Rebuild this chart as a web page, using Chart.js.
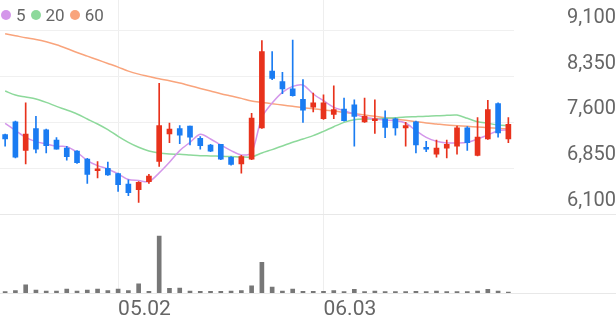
<!DOCTYPE html>
<html>
<head>
<meta charset="utf-8">
<script src="https://cdn.jsdelivr.net/npm/chart.js@4.4.1/dist/chart.umd.min.js"></script>
<style>
  body { margin: 0; background: #fff; }
  #wrap { position: relative; width: 616px; height: 321px; }
  #legend { position: absolute; left: 1px; top: 5px; display: flex; align-items: center;
            font: 17px Roboto, sans-serif; color: #666; line-height: 20px; }
  #legend .dot { width: 10px; height: 10px; border-radius: 50%; display: inline-block; margin-right: 5px; }
  #legend .txt { margin-right: 5px; }
</style>
</head>
<body>
<div id="wrap">
  <canvas id="myChart"></canvas>
  <div id="legend"></div>
</div>
<script>
const dates = ["04.16","04.17","04.18","04.19","04.22","04.23","04.24","04.25","04.26","04.29",
  "04.30","05.02","05.03","05.07","05.08","05.09","05.10","05.13","05.14","05.16",
  "05.17","05.20","05.21","05.22","05.23","05.24","05.27","05.28","05.29","05.30",
  "05.31","06.03","06.04","06.05","06.07","06.10","06.11","06.12","06.13","06.14",
  "06.17","06.18","06.19","06.20","06.21","06.24","06.25","06.26","06.27","06.28"];
const dateTicks = ["05.02", "06.03"];
const priceTicks = [6100, 6850, 7600, 8350, 9100];

const openP  = [7400,7610,7140,7500,7480,7310,7180,7130,7000,6810,
                6850,6760,6590,6500,6630,6960,7410,7500,7540,7340,
                7230,7240,7030,6920,7000,7510,8440,8270,8150,7980,
                7850,7660,7730,7820,7890,7610,7630,7660,7660,7510,
                7610,7190,7080,7180,7210,7510,7060,7330,7910,7330];
const highP  = [7410,7620,7920,7700,7490,7350,7210,7140,7010,6960,
                6950,6770,6660,6630,6750,8240,7590,7550,7540,7370,
                7240,7240,7040,7060,7750,8940,8760,8420,8950,8300,
                8080,8050,8200,8000,7970,8000,7970,7790,7670,7600,
                7620,7290,7310,7310,7540,7530,7680,7960,7920,7680];
const lowP   = [7210,7020,6920,7100,7100,7160,6980,6930,6600,6690,
                6730,6470,6400,6290,6600,6880,7270,7250,7230,7160,
                7120,6990,6900,6770,6990,7500,8300,8070,8030,7600,
                7770,7650,7660,7620,7210,7600,7420,7350,7390,7210,
                7100,7120,7030,7020,7080,7140,7050,7320,7360,7270];
const closeP = [7330,7030,7410,7160,7220,7160,7040,6940,6750,6840,
                6740,6580,6450,6620,6720,7550,7490,7390,7360,7220,
                7130,7000,6910,7040,7670,8760,8320,8150,8040,7800,
                7920,7920,7810,7630,7700,7700,7660,7520,7510,7550,
                7230,7160,7180,7240,7510,7270,7360,7810,7430,7570];
const volumes = [40000,70000,250000,90000,60000,60000,120000,60000,90000,120000,
                 70000,120000,70000,280000,50000,1730000,140000,150000,60000,50000,
                 50000,50000,60000,70000,220000,930000,180000,60000,120000,50000,
                 50000,50000,70000,40000,110000,40000,60000,40000,40000,40000,
                 50000,40000,60000,40000,40000,40000,60000,110000,60000,30000];

const ma5  = [7585,7470,7356,7285,7247,7209,7203,7111,6975,6893,
              6838,6757,6664,6648,6631,6773,6947,7138,7274,7405,
              7329,7231,7138,7067,7110,7683,7917,8092,8190,8212,
              8065,7956,7847,7792,7738,7683,7656,7639,7629,7590,
              7465,7356,7291,7263,7263,7274,7329,7394,7465,7481];
const ma20 = [8114,8048,8016,7983,7928,7863,7803,7738,7656,7574,
              7481,7372,7274,7193,7133,7100,7084,7078,7067,7056,
              7051,7045,7040,7034,7034,7100,7155,7215,7274,7329,
              7383,7454,7530,7601,7645,7656,7656,7667,7678,7689,
              7694,7700,7710,7716,7721,7667,7612,7585,7558,7547];
const ma60 = [9051,9020,8986,8958,8920,8871,8811,8746,8686,8626,
              8566,8506,8440,8391,8353,8315,8283,8244,8201,8157,
              8114,8070,8032,7994,7950,7928,7906,7885,7863,7841,
              7825,7803,7787,7765,7743,7721,7700,7678,7656,7634,
              7612,7590,7574,7558,7547,7536,7525,7514,7503,7492];

const maNames = ["5", "20", "60"];
const maColors = ["#d497ea", "#8dd99b", "#f9a47c"];
const upColor = "#e8321c";
const downColor = "#1a7cf2";

const candleColors = closeP.map((c, i) => c >= openP[i] ? upColor : downColor);

// legend
const legendEl = document.getElementById("legend");
maNames.forEach((n, i) => {
  legendEl.innerHTML += '<span class="dot" style="background:' + maColors[i] + '"></span><span class="txt">' + n + '</span>';
});

const separators = {
  id: "separators",
  beforeDatasetsDraw(chart) {
    const ctx = chart.ctx;
    ctx.save();
    ctx.strokeStyle = "#e8e8e8";
    ctx.lineWidth = 1;
    [chart.scales.y.bottom, chart.scales.v.bottom].forEach(yy => {
      const p = Math.round(yy) + 0.5;
      ctx.beginPath();
      ctx.moveTo(0, p);
      ctx.lineTo(chart.width, p);
      ctx.stroke();
    });
    ctx.restore();
  }
};

const maSets = [ma5, ma20, ma60].map((d, i) => ({
  type: "line",
  label: maNames[i],
  data: d,
  borderColor: maColors[i],
  borderWidth: 1.5,
  pointRadius: 0,
  tension: 0.3,
  yAxisID: "y",
  order: 2
}));

new Chart("myChart", {
  type: "bar",
  data: {
    labels: dates,
    datasets: [
      {
        label: "body",
        data: dates.map((d, i) => [openP[i], closeP[i]]),
        backgroundColor: candleColors,
        barThickness: 5,
        minBarLength: 1,
        grouped: false,
        yAxisID: "y",
        order: 0
      },
      {
        label: "wick",
        data: dates.map((d, i) => [lowP[i], highP[i]]),
        backgroundColor: candleColors,
        barThickness: 1,
        grouped: false,
        yAxisID: "y",
        order: 1
      },
      ...maSets,
      {
        label: "volume",
        data: volumes,
        backgroundColor: "#777777",
        barThickness: 4,
        grouped: false,
        yAxisID: "v",
        order: 3
      }
    ]
  },
  options: {
    responsive: true,
    maintainAspectRatio: false,
    animation: false,
    layout: { padding: 0 },
    plugins: {
      legend: { display: false },
      tooltip: { enabled: false }
    },
    scales: {
      x: {
        offset: true,
        grid: { color: "#eeeeee", offset: false, drawTicks: false },
        border: { display: false },
        ticks: {
          align: "start",
          padding: 4,
          autoSkip: false,
          maxRotation: 0,
          color: "#666",
          font: { family: "Roboto", size: 21 }
        },
        afterBuildTicks: s => {
          s.ticks = s.ticks.filter(t => dateTicks.includes(dates[t.value]));
        },
        afterFit: s => { s.height = 28; s.paddingLeft = 0; s.paddingRight = 0; }
      },
      y: {
        position: "right",
        stack: "main",
        stackWeight: 214,
        min: 6100,
        max: 9605,
        grid: { color: "#f0f0f0", drawTicks: false },
        border: { display: false },
        ticks: {
          color: "#666",
          font: { family: "Roboto", size: 20 },
          labelOffset: -13,
          crossAlign: "far",
          padding: 50,
          callback: v => v.toLocaleString("en-US")
        },
        afterBuildTicks: s => { s.ticks = priceTicks.map(v => ({ value: v })); },
        afterFit: s => { s.width = 102.5; s.paddingTop = 0; s.paddingBottom = 0; }
      },
      v: {
        position: "right",
        stack: "main",
        stackWeight: 79,
        min: 0,
        max: 2400000,
        grid: { display: false },
        border: { display: false },
        ticks: { display: false },
        afterFit: s => { s.width = 102.5; s.paddingTop = 0; s.paddingBottom = 0; }
      }
    }
  },
  plugins: [separators]
});
</script>
</body>
</html>
